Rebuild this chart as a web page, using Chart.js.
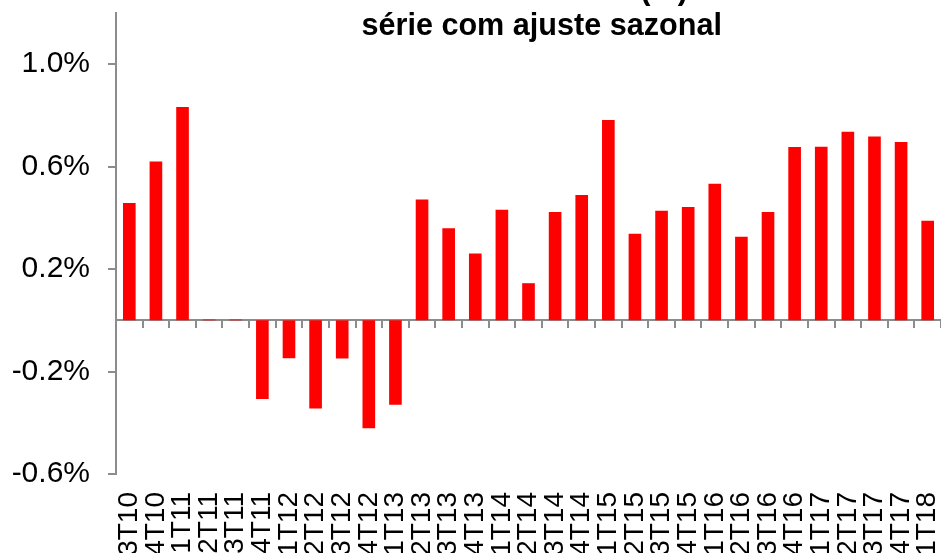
<!DOCTYPE html>
<html>
<head>
<meta charset="utf-8">
<script src="https://cdn.jsdelivr.net/npm/chart.js@4/dist/chart.umd.min.js"></script>
<style>
html,body{margin:0;padding:0;background:#fff;overflow:hidden;}
#wrap{width:941px;height:553px;position:relative;background:#fff;}
</style>
</head>
<body>
<div id="wrap"><canvas id="c" width="941" height="553"></canvas></div>
<script>
const categories = ['3T10','4T10','1T11','2T11','3T11','4T11','1T12','2T12','3T12','4T12','1T13','2T13','3T13','4T13','1T14','2T14','3T14','4T14','1T15','2T15','3T15','4T15','1T16','2T16','3T16','4T16','1T17','2T17','3T17','4T17','1T18'];
const values = [0.458,0.620,0.833,0.003,0.003,-0.307,-0.148,-0.344,-0.149,-0.421,-0.330,0.472,0.360,0.261,0.432,0.145,0.423,0.489,0.782,0.338,0.428,0.443,0.533,0.326,0.423,0.677,0.678,0.736,0.718,0.696,0.389];
const yTicks = [-0.6,-0.2,0.2,0.6,1.0];
const yMin = -0.6;
const yMax = 1.2;
const titleLines = ['Índice trimestral (%)', 'série com ajuste sazonal'];

const FONT = '"Liberation Sans", Arial, Helvetica, sans-serif';
const AXIS_GRAY = '#8c8c8c';
Chart.defaults.font.family = FONT;
Chart.defaults.color = '#000';

function noPad(scale) {
  scale.paddingTop = 0; scale.paddingBottom = 0;
  scale.paddingLeft = 0; scale.paddingRight = 0;
}

const titlePlugin = {
  id: 'clippedTitle',
  afterDraw(chart) {
    const ctx = chart.ctx;
    ctx.save();
    ctx.fillStyle = '#000';
    ctx.font = 'bold 30.6px ' + FONT;
    ctx.textAlign = 'center';
    ctx.textBaseline = 'alphabetic';
    ctx.fillText(titleLines[0], 541.7, -1);
    ctx.fillText(titleLines[1], 541.7, 35);
    ctx.restore();
  }
};

new Chart(document.getElementById('c'), {
  type: 'bar',
  data: {
    labels: categories,
    datasets: [{
      data: values,
      backgroundColor: '#ff0000',
      borderWidth: 0,
      barPercentage: 0.475,
      categoryPercentage: 1.0,
      xAxisID: 'x',
      yAxisID: 'y'
    }]
  },
  options: {
    responsive: false,
    animation: false,
    devicePixelRatio: 1,
    layout: { autoPadding: false, padding: { top: 13, left: 0, right: -2.5, bottom: 0 } },
    plugins: { legend: { display: false }, tooltip: { enabled: false }, title: { display: false } },
    scales: {
      x: {
        type: 'category',
        position: 'bottom',
        offset: true,
        grid: { display: false, drawTicks: false, drawOnChartArea: false },
        border: { display: false },
        ticks: {
          autoSkip: false,
          minRotation: 90,
          maxRotation: 90,
          padding: 18,
          font: { size: 28, family: FONT },
          color: '#000'
        },
        afterFit(scale) { scale.height = 79; noPad(scale); }
      },
      x2: {
        type: 'category',
        position: { y: 0 },
        offset: true,
        z: 1,
        grid: { display: true, offset: true, drawOnChartArea: false, drawTicks: true, tickLength: 7, color: AXIS_GRAY, lineWidth: 2 },
        border: { display: true, color: AXIS_GRAY, width: 2 },
        ticks: { display: false },
        afterFit(scale) { noPad(scale); }
      },
      y: {
        type: 'linear',
        position: 'left',
        min: yMin,
        max: yMax,
        z: 1,
        grid: { display: true, drawOnChartArea: false, drawTicks: true, tickLength: 8, color: AXIS_GRAY, lineWidth: 2 },
        border: { display: true, color: AXIS_GRAY, width: 2 },
        afterBuildTicks(scale) { scale.ticks = yTicks.map(v => ({ value: v })); },
        ticks: {
          padding: 18,
          font: { size: 30, family: FONT },
          color: '#000',
          callback: (v) => Number(v).toFixed(1) + '%'
        },
        afterFit(scale) { scale.width = 116; noPad(scale); }
      }
    }
  },
  plugins: [titlePlugin]
});
</script>
</body>
</html>
